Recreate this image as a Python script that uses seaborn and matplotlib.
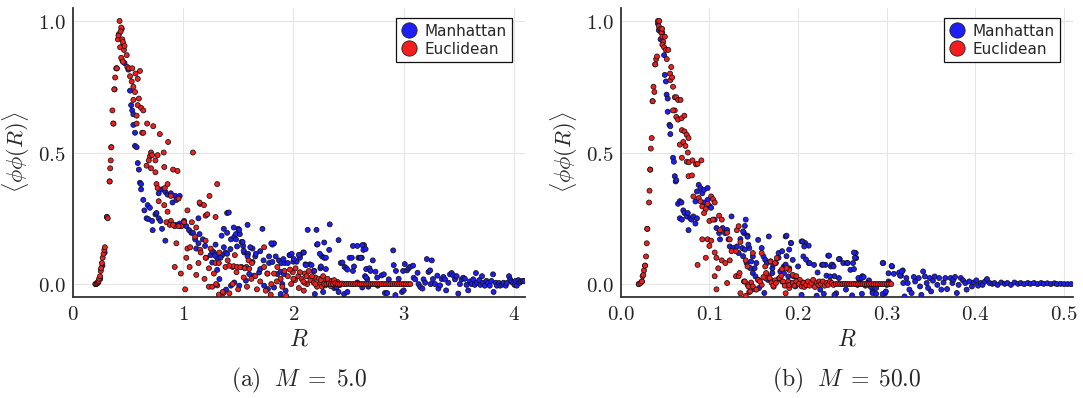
import matplotlib
matplotlib.use("Agg")
import matplotlib.pyplot as plt
import pandas as pd
import seaborn as sns
from matplotlib.ticker import FuncFormatter, FixedLocator
from matplotlib.lines import Line2D

# ---------------------------------------------------------------------------
# Two-point correlation <phi phi(R)> versus separation R, for two distance
# metrics and two masses.  Each series is a list of (R, correlation) samples.
# ---------------------------------------------------------------------------

SERIES = ["Manhattan", "Euclidean"]
COLORS = {"Manhattan": "#1e1ef5", "Euclidean": "#f51e1e"}

# ----- panel (a): M = 5.0 --------------------------------------------------
A_MANHATTAN = [
    (0.21, 0.0), (0.23, 0.005), (0.25, 0.02), (0.27, 0.07), (0.29, 0.12), (0.31, 0.255),
    (0.335, 0.39), (0.35, 0.52), (0.37, 0.61), (0.38, 0.74), (0.40, 0.82), (0.42, 0.95),
    (0.445, 0.97), (0.45, 0.85), (0.47, 0.84), (0.46, 0.91), (0.505, 0.815), (0.52, 0.735),
    (0.53, 0.68), (0.54, 0.66), (0.55, 0.645), (0.55, 0.605), (0.565, 0.575), (0.565, 0.525),
    (0.58, 0.52), (0.59, 0.46), (0.60, 0.435), (0.61, 0.385), (0.62, 0.38), (0.62, 0.36),
    (0.64, 0.32), (0.65, 0.28), (0.67, 0.25), (0.685, 0.247), (0.72, 0.24), (0.725, 0.205),
    (0.68, 0.30), (0.70, 0.29), (0.75, 0.265), (0.76, 0.27), (0.78, 0.25), (0.795, 0.24),
    (0.81, 0.21), (0.84, 0.165), (0.78, 0.345), (0.81, 0.36), (0.84, 0.35), (0.86, 0.34),
    (0.89, 0.345), (0.93, 0.335), (0.97, 0.335), (0.905, 0.31), (0.94, 0.32), (0.97, 0.23),
    (0.935, 0.225), (0.98, 0.22), (1.01, 0.24), (1.03, 0.22), (1.055, 0.205), (1.075, 0.195),
    (1.09, 0.195), (1.11, 0.17), (1.14, 0.155), (1.12, 0.135), (1.15, 0.19), (1.18, 0.17),
    (1.20, 0.145), (1.21, 0.10), (1.25, 0.11), (1.28, 0.12), (1.295, 0.15), (1.14, 0.25),
    (1.155, 0.305), (1.265, 0.125), (1.31, 0.10), (1.355, 0.11), (1.37, 0.14), (1.385, 0.12),
    (1.40, 0.27), (1.37, 0.21), (1.40, 0.195), (1.435, 0.17), (1.465, 0.18), (1.48, 0.19),
    (1.50, 0.21), (1.515, 0.19), (1.53, 0.16), (1.585, 0.225), (1.555, 0.12), (1.545, 0.145),
    (1.59, 0.115), (1.63, 0.135), (1.655, 0.105), (1.70, 0.125), (1.72, 0.21), (1.73, 0.09),
    (1.765, 0.04), (1.78, 0.08), (1.81, 0.15), (1.825, 0.155), (1.84, 0.105), (1.87, 0.09),
    (1.89, 0.08), (1.92, 0.08), (1.90, 0.0), (1.965, 0.11), (2.0, 0.085), (2.03, 0.085),
    (2.06, 0.11), (2.09, 0.12), (2.11, 0.075), (2.13, 0.206), (2.15, 0.075), (2.185, 0.05),
    (2.21, 0.206), (2.215, 0.15), (2.245, 0.06), (2.26, 0.105), (2.28, 0.10), (2.33, 0.227),
    (2.325, 0.13), (2.34, 0.01), (2.37, -0.015), (2.41, 0.167), (2.43, 0.08), (2.465, 0.065),
    (2.48, 0.06), (2.49, 0.055), (2.54, 0.145), (2.51, 0.10), (2.54, 0.05), (2.58, 0.145),
    (2.59, 0.10), (2.605, 0.10), (2.64, 0.148), (2.635, 0.13), (2.65, 0.03), (2.68, -0.01),
    (1.265, 0.082), (1.29, 0.108), (1.34, 0.10), (1.40, 0.115), (1.43, 0.133), (1.49, 0.143),
    (1.55, 0.127), (1.585, 0.105), (1.63, 0.084), (1.66, 0.115), (1.78, 0.105), (1.81, 0.084),
    (1.91, 0.095), (1.97, 0.11), (2.06, 0.10), (1.985, 0.115), (2.05, 0.111), (2.095, 0.12),
    (2.115, 0.072), (2.165, 0.072), (2.19, 0.05), (2.25, 0.067), (2.295, 0.057), (2.39, -0.013),
    (2.41, -0.03), (2.46, -0.038), (2.49, -0.03), (2.195, -0.038), (2.27, -0.03), (1.93, -0.025),
    (1.885, -0.038), (1.825, -0.013), (1.77, -0.019), (1.735, -0.006), (1.855, 0.038),
    (1.885, 0.047), (1.915, 0.038), (1.95, 0.08), (2.005, 0.095), (1.69, 0.044), (1.70, 0.057),
    (1.645, 0.032), (1.60, 0.038), (1.57, 0.013), (1.51, -0.006), (1.465, 0.006), (1.435, -0.006),
    (1.39, -0.021), (1.33, 0.019), (1.31, 0.054), (1.415, 0.272), (1.46, 0.215), (1.51, 0.206),
    (1.35, 0.184), (1.48, 0.17), (1.54, 0.16), (1.61, 0.14), (1.80, 0.155), (2.22, 0.152),
    (2.28, 0.158), (2.24, 0.115), (2.295, 0.10), (2.445, 0.082), (2.53, 0.10), (2.62, 0.10),
    (2.58, 0.006), (2.625, -0.013), (2.67, 0.019), (2.55, 0.067), (2.66, 0.057),
    (2.625, 0.148), (2.655, 0.133), (2.61, 0.10), (2.72, 0.09), (2.69, 0.06), (2.70, 0.05),
    (2.745, 0.047), (2.66, 0.025), (2.76, 0.025), (2.80, 0.033), (2.82, 0.037), (2.765, -0.006),
    (2.83, -0.034), (2.85, -0.034), (2.905, 0.128), (2.91, 0.072), (2.93, 0.05), (2.865, 0.018),
    (2.875, 0.0), (2.925, -0.042), (2.955, 0.02), (2.995, 0.05), (3.01, 0.076), (2.985, -0.03),
    (3.0, -0.024), (3.03, 0.052), (3.045, 0.06), (3.06, 0.066), (3.085, 0.07), (3.09, 0.024),
    (3.105, 0.018), (3.126, 0.043), (3.135, 0.0), (3.15, -0.011), (3.17, -0.017), (3.18, 0.018),
    (3.195, 0.005), (3.21, 0.095), (3.225, 0.046), (3.24, 0.052), (3.255, 0.09), (3.265, 0.019),
    (3.245, 0.0), (3.285, 0.0), (3.305, 0.032), (3.315, -0.017), (3.33, -0.005), (3.345, 0.019),
    (3.36, 0.027), (3.375, 0.018), (3.385, -0.024), (3.405, 0.005), (3.42, 0.037), (3.435, 0.042),
    (3.45, 0.033), (3.465, 0.018), (3.48, 0.03), (3.495, -0.036), (3.51, 0.0), (3.525, 0.018),
    (3.54, 0.024), (3.555, 0.02), (3.57, -0.003), (3.585, -0.024), (3.60, 0.01), (3.615, 0.0),
    (3.63, 0.018), (3.645, -0.003), (3.655, 0.042), (3.665, 0.005), (3.685, 0.015),
    (3.695, -0.003), (3.71, 0.03), (3.72, 0.005), (3.735, -0.006), (3.75, 0.012), (3.765, 0.004),
    (3.78, -0.006), (3.795, 0.012), (3.81, 0.037), (3.815, -0.03), (3.835, 0.005), (3.845, -0.006),
    (3.865, 0.004), (3.875, -0.006), (3.895, -0.002), (3.905, 0.005), (3.925, -0.006),
    (3.935, 0.004), (3.955, 0.03), (3.965, 0.018), (3.975, 0.01), (3.99, 0.005), (4.005, -0.003),
    (4.015, 0.012), (4.025, -0.006), (4.04, 0.015), (4.05, 0.005), (4.065, 0.01), (4.08, 0.012),
    (4.095, 0.012),
]

A_EUCLIDEAN = [
    (0.205, 0.0), (0.215, 0.0), (0.222, 0.003), (0.228, 0.008), (0.235, 0.012), (0.24, 0.02),
    (0.248, 0.03), (0.255, 0.05), (0.258, 0.06), (0.265, 0.08), (0.272, 0.10), (0.28, 0.115),
    (0.287, 0.13), (0.292, 0.14), (0.31, 0.255), (0.318, 0.25), (0.335, 0.39), (0.34, 0.44),
    (0.345, 0.47), (0.35, 0.52), (0.36, 0.66), (0.368, 0.61), (0.377, 0.74), (0.385, 0.785),
    (0.395, 0.82), (0.40, 0.82), (0.41, 0.93), (0.415, 0.945), (0.425, 1.0), (0.44, 0.975),
    (0.435, 0.96), (0.43, 0.90), (0.45, 0.93), (0.455, 0.92), (0.465, 0.89), (0.47, 0.905),
    (0.44, 0.86), (0.455, 0.845), (0.49, 0.87), (0.495, 0.825), (0.51, 0.82), (0.54, 0.82),
    (0.57, 0.80), (0.61, 0.81), (0.52, 0.79), (0.59, 0.78), (0.535, 0.77), (0.55, 0.75),
    (0.565, 0.73), (0.55, 0.70), (0.60, 0.705), (0.59, 0.68), (0.62, 0.67), (0.64, 0.66),
    (0.58, 0.64), (0.63, 0.575), (0.64, 0.575), (0.675, 0.61), (0.73, 0.60), (0.79, 0.57),
    (0.865, 0.54), (0.58, 0.61), (0.71, 0.50), (0.70, 0.485), (0.69, 0.47), (0.72, 0.49),
    (0.77, 0.49), (0.825, 0.50), (0.67, 0.45), (0.75, 0.47), (0.71, 0.44), (0.75, 0.425),
    (0.83, 0.445), (0.91, 0.435), (0.95, 0.43), (1.09, 0.50), (0.76, 0.38), (0.77, 0.365),
    (0.835, 0.365), (0.86, 0.38), (0.89, 0.335), (0.96, 0.325), (0.78, 0.315), (0.83, 0.30),
    (0.86, 0.275), (0.89, 0.24), (0.925, 0.22), (0.985, 0.22), (1.01, 0.235), (1.04, 0.28),
    (1.15, 0.31), (1.19, 0.30), (1.205, 0.26), (1.22, 0.265), (1.24, 0.335), (1.31, 0.38),
    (1.295, 0.255), (1.08, 0.235), (0.94, 0.155), (1.04, 0.135), (1.065, 0.14), (1.03, 0.10),
    (0.925, 0.065), (1.06, 0.065), (1.11, 0.18), (1.205, 0.165), (1.155, 0.13), (1.205, 0.10),
    (1.25, 0.135), (1.295, 0.08), (1.325, 0.08), (1.33, 0.12), (1.28, 0.04), (1.235, 0.06),
    (1.14, 0.08), (0.98, 0.04), (1.02, -0.02), (1.195, 0.02), (1.235, -0.01), (1.265, -0.01),
    (1.31, -0.005), (1.325, -0.04), (1.365, -0.035), (1.42, -0.035), (1.385, 0.065),
    (1.405, 0.09), (1.45, 0.065), (1.485, 0.045), (1.53, 0.065), (1.55, 0.025), (1.575, 0.065),
    (1.595, 0.09), (1.625, 0.08), (1.655, 0.03), (1.67, -0.02), (1.735, 0.14), (1.735, 0.065),
    (1.765, 0.04), (1.795, -0.04), (1.825, 0.04), (1.855, 0.065), (1.885, 0.02), (1.935, -0.045),
    (1.95, 0.03), (1.995, 0.045), (2.015, 0.015), (2.045, 0.03), (2.075, 0.02), (2.105, 0.04),
    (2.125, 0.0), (2.095, -0.025), (2.155, 0.015), (2.185, 0.005), (2.2, 0.025), (2.215, -0.01),
    (2.245, 0.005), (0.85, 0.235), (0.88, 0.225), (0.91, 0.225), (0.96, 0.22), (1.12, 0.215),
    (1.42, 0.07), (1.46, 0.068), (1.49, 0.065), (1.52, 0.064), (1.56, 0.06), (1.60, 0.058),
    (1.12, 0.035), (1.16, 0.12), (1.30, 0.0), (1.36, -0.03), (1.45, 0.0), (1.50, -0.02),
    (1.47, 0.11), (1.58, -0.01), (1.62, 0.02), (1.70, 0.01), (1.75, -0.025), (1.80, 0.0),
    (1.85, 0.01), (1.90, -0.01), (1.98, 0.0), (2.05, -0.015), (2.10, 0.005), (1.92, 0.05),
    (1.97, 0.055), (2.00, 0.02), (2.02, 0.06), (2.06, 0.045), (2.09, 0.01), (2.12, 0.03),
    (2.14, 0.05), (2.17, 0.03), (2.20, 0.0), (2.23, 0.02), (2.25, 0.015), (2.27, 0.03),
    (2.30, 0.01), (2.32, 0.005), (2.35, 0.012), (2.38, 0.0), (2.40, 0.008), (2.26, -0.01),
    (2.29, -0.005), (2.31, 0.02), (2.34, -0.008), (2.37, 0.015), (2.42, -0.004),
    (2.28, 0.0), (2.30, 0.0), (2.32, 0.002), (2.34, 0.0), (2.36, 0.0), (2.38, 0.003),
    (2.40, 0.0), (2.42, 0.0), (2.44, 0.002), (2.46, 0.0), (2.48, 0.0), (2.50, 0.001),
    (2.52, 0.0), (2.54, 0.0), (2.56, 0.0), (2.58, 0.001), (2.60, 0.0), (2.62, 0.0),
    (2.64, 0.0), (2.66, 0.0), (2.68, 0.001), (2.70, 0.0), (2.72, 0.0), (2.74, 0.0),
    (2.76, 0.0), (2.78, 0.0), (2.80, 0.0), (2.82, 0.0), (2.84, 0.0), (2.86, 0.0),
    (2.88, 0.0), (2.90, 0.0), (2.92, 0.0), (2.94, 0.0), (2.96, 0.0), (2.98, 0.0),
    (3.00, 0.0), (3.02, 0.0), (3.04, 0.0), (3.06, 0.0),
]

# ----- panel (b): M = 50.0 -------------------------------------------------
B_MANHATTAN = [
    (0.0204, 0.0), (0.024, 0.01), (0.0275, 0.07), (0.030, 0.21), (0.0333, 0.435),
    (0.036, 0.695), (0.039, 0.835), (0.042, 0.99), (0.045, 0.96),
    (0.043, 0.965), (0.047, 0.955), (0.045, 0.93), (0.049, 0.87), (0.0498, 0.795), (0.051, 0.77),
    (0.0518, 0.72), (0.053, 0.705), (0.053, 0.655), (0.055, 0.605), (0.056, 0.60), (0.056, 0.57),
    (0.059, 0.48), (0.060, 0.465), (0.061, 0.41), (0.062, 0.39), (0.0627, 0.395), (0.0647, 0.305),
    (0.0667, 0.315), (0.0686, 0.31), (0.0667, 0.25), (0.069, 0.245), (0.0706, 0.28), (0.072, 0.27),
    (0.0745, 0.257), (0.0757, 0.27), (0.0784, 0.25), (0.080, 0.245), (0.082, 0.257),
    (0.0765, 0.205), (0.0843, 0.23), (0.086, 0.25), (0.0843, 0.314), (0.088, 0.377), (0.090, 0.365),
    (0.092, 0.345), (0.094, 0.358), (0.098, 0.365), (0.086, 0.352), (0.098, 0.32), (0.100, 0.297),
    (0.102, 0.29), (0.094, 0.31), (0.106, 0.245), (0.108, 0.213), (0.111, 0.194), (0.112, 0.17),
    (0.115, 0.213), (0.1176, 0.194), (0.120, 0.206), (0.1216, 0.17), (0.123, 0.143), (0.125, 0.257),
    (0.127, 0.137), (0.131, 0.143), (0.133, 0.118), (0.135, 0.171), (0.137, 0.137), (0.139, 0.194),
    (0.141, 0.245), (0.143, 0.184), (0.145, 0.137), (0.147, 0.086), (0.149, 0.105), (0.151, 0.06),
    (0.153, 0.08), (0.155, 0.168), (0.159, 0.137), (0.161, 0.105), (0.163, 0.092), (0.165, 0.08),
    (0.167, 0.181), (0.169, 0.086), (0.171, 0.06), (0.178, 0.118), (0.184, 0.067), (0.186, 0.181),
    (0.190, 0.06), (0.192, 0.156), (0.194, 0.092), (0.200, 0.067), (0.204, 0.162), (0.208, 0.156),
    (0.212, 0.146), (0.206, 0.105), (0.212, 0.08), (0.218, 0.073), (0.222, 0.044), (0.227, 0.073),
    (0.231, 0.073), (0.234, 0.108), (0.237, 0.067), (0.239, 0.073), (0.241, 0.03), (0.243, -0.035),
    (0.247, 0.095), (0.251, 0.08), (0.255, 0.08), (0.259, 0.054), (0.263, 0.057), (0.265, 0.118),
    (0.2655, 0.099), (0.269, 0.016), (0.2725, 0.03), (0.276, -0.006), (0.280, 0.014),
    (0.284, -0.028), (0.288, -0.015), (0.296, 0.08), (0.298, -0.035), (0.300, -0.003),
    (0.302, 0.01), (0.306, 0.067), (0.308, 0.039), (0.314, 0.044), (0.316, 0.032), (0.318, 0.052),
    (0.138, 0.106), (0.14, 0.131), (0.144, 0.15), (0.143, 0.18), (0.14, 0.221), (0.138, 0.2),
    (0.142, 0.08), (0.146, 0.061), (0.149, 0.042), (0.152, 0.029), (0.155, 0.016), (0.156, -0.015),
    (0.162, -0.034), (0.166, 0.016), (0.171, 0.042), (0.18, 0.048), (0.184, 0.042), (0.189, 0.029),
    (0.197, -0.009), (0.204, -0.041), (0.202, 0.01), (0.2, 0.016), (0.195, 0.029), (0.186, 0.074),
    (0.172, 0.074), (0.175, 0.08), (0.178, 0.1), (0.182, 0.125), (0.187, 0.106), (0.19, 0.131),
    (0.192, 0.156), (0.187, 0.184), (0.205, 0.162), (0.207, 0.143), (0.209, 0.093), (0.213, 0.08),
    (0.211, -0.003), (0.221, -0.044), (0.225, -0.021), (0.229, -0.037), (0.228, 0.074),
    (0.232, 0.032), (0.236, 0.029), (0.241, -0.041), (0.246, 0.023), (0.254, -0.021),
    (0.261, -0.043), (0.267, -0.003), (0.272, -0.037), (0.235, 0.108), (0.238, 0.074),
    (0.24, 0.067), (0.246, 0.095), (0.256, 0.08), (0.262, 0.08), (0.264, 0.1), (0.263, 0.12),
    (0.268, 0.023), (0.272, 0.023), (0.274, 0.027), (0.278, 0.004), (0.282, -0.011),
    (0.284, -0.034), (0.288, -0.037), (0.2954, -0.038), (0.299, -0.028), (0.303, 0.004),
    (0.302, 0.041), (0.3055, 0.069), (0.2954, 0.08),
    (0.3186, 0.004), (0.315, 0.032), (0.317, 0.048), (0.3221, 0.023), (0.3236, 0.004),
    (0.3255, -0.021), (0.320, -0.047), (0.328, -0.034), (0.3305, 0.027), (0.332, 0.01),
    (0.336, 0.023), (0.3375, -0.009), (0.339, -0.041), (0.341, 0.048), (0.343, 0.029),
    (0.345, 0.004), (0.3466, -0.015), (0.3485, 0.023), (0.350, -0.028), (0.352, 0.013),
    (0.354, 0.029), (0.357, -0.003), (0.359, 0.023), (0.3615, -0.021), (0.364, 0.006),
    (0.366, 0.023), (0.368, -0.019), (0.372, 0.023), (0.374, 0.004), (0.375, 0.016),
    (0.377, 0.027), (0.379, -0.034), (0.381, -0.003), (0.3835, 0.023), (0.386, 0.014),
    (0.3885, 0.004), (0.390, -0.021), (0.393, 0.01), (0.396, -0.009), (0.398, 0.006),
    (0.401, 0.014), (0.403, -0.006), (0.406, 0.004), (0.408, -0.003), (0.4107, 0.01),
    (0.413, 0.019), (0.416, 0.004), (0.419, 0.001), (0.4215, 0.004), (0.425, -0.003),
    (0.429, 0.006), (0.433, 0.001), (0.436, 0.004), (0.44, -0.003), (0.444, 0.006),
    (0.448, 0.001), (0.451, 0.004), (0.455, 0.0), (0.459, 0.004), (0.462, 0.001),
    (0.466, 0.004), (0.47, 0.0), (0.474, 0.004), (0.477, 0.001), (0.481, 0.003),
    (0.485, 0.0), (0.489, 0.003), (0.492, 0.0), (0.496, 0.001), (0.50, 0.0), (0.504, 0.0),
    (0.508, 0.0),
]

B_EUCLIDEAN = [
    (0.0204, 0.0), (0.0224, 0.004), (0.024, 0.01), (0.0247, 0.03), (0.0255, 0.035),
    (0.0263, 0.052), (0.0275, 0.07), (0.0286, 0.105), (0.0294, 0.155), (0.030, 0.21),
    (0.032, 0.31), (0.0325, 0.355), (0.0333, 0.435), (0.034, 0.515), (0.035, 0.555),
    (0.036, 0.695), (0.037, 0.75), (0.038, 0.73), (0.039, 0.835), (0.040, 0.855),
    (0.041, 0.865), (0.042, 1.0), (0.0435, 1.0), (0.043, 0.98), (0.045, 0.97), (0.046, 0.955),
    (0.0467, 0.97), (0.047, 0.94), (0.048, 0.92), (0.047, 0.91), (0.049, 0.90), (0.0498, 0.94),
    (0.051, 0.89), (0.052, 0.855), (0.0537, 0.89), (0.0557, 0.80), (0.057, 0.825), (0.056, 0.775),
    (0.058, 0.785), (0.059, 0.75), (0.061, 0.71), (0.0627, 0.71), (0.0647, 0.70), (0.0675, 0.70),
    (0.061, 0.66), (0.059, 0.66), (0.0627, 0.635), (0.0647, 0.625), (0.0686, 0.63), (0.0718, 0.64),
    (0.069, 0.585), (0.072, 0.58), (0.0745, 0.567), (0.0765, 0.555), (0.0667, 0.53), (0.0706, 0.54),
    (0.073, 0.525), (0.0757, 0.50), (0.069, 0.48), (0.0745, 0.465), (0.077, 0.463), (0.081, 0.47),
    (0.085, 0.455), (0.0867, 0.457), (0.091, 0.47), (0.0765, 0.41), (0.0804, 0.413),
    (0.082, 0.333), (0.088, 0.327), (0.090, 0.314), (0.098, 0.305), (0.102, 0.333), (0.104, 0.323),
    (0.106, 0.31), (0.092, 0.295), (0.096, 0.285), (0.094, 0.27), (0.100, 0.24), (0.104, 0.245),
    (0.092, 0.17), (0.098, 0.17), (0.100, 0.145), (0.102, 0.165), (0.106, 0.12), (0.096, 0.10),
    (0.0867, 0.073), (0.111, 0.26), (0.114, 0.245), (0.112, 0.205), (0.120, 0.195), (0.123, 0.17),
    (0.123, 0.09), (0.125, 0.125), (0.130, 0.125), (0.108, 0.10), (0.110, 0.06), (0.114, 0.09),
    (0.118, 0.08), (0.106, 0.03), (0.108, -0.02), (0.120, 0.004), (0.130, 0.03), (0.133, 0.03),
    (0.135, -0.035), (0.141, -0.045), (0.145, -0.03), (0.147, 0.006), (0.143, -0.002),
    (0.139, 0.01), (0.151, -0.02), (0.155, 0.016), (0.159, -0.003), (0.163, 0.023),
    (0.1667, 0.03), (0.171, 0.01), (0.1725, -0.01), (0.178, 0.02), (0.182, 0.01),
    (0.186, -0.035), (0.190, -0.015), (0.192, 0.004), (0.131, 0.205), (0.133, 0.22),
    (0.135, 0.16), (0.141, 0.09), (0.143, 0.067), (0.149, 0.118), (0.159, 0.118), (0.163, 0.067),
    (0.169, 0.086), (0.174, 0.08), (0.176, 0.099), (0.182, 0.057), (0.190, 0.054), (0.194, 0.035),
    (0.198, 0.03), (0.202, 0.016), (0.206, 0.006),
    (0.134, 0.042), (0.140, 0.01), (0.144, -0.009), (0.146, -0.028), (0.149, -0.009),
    (0.153, -0.021), (0.157, 0.01), (0.161, 0.027), (0.164, 0.042), (0.168, 0.023),
    (0.170, 0.006), (0.172, -0.006), (0.174, 0.014), (0.175, 0.004), (0.179, 0.023),
    (0.181, 0.032), (0.183, 0.01), (0.185, -0.006), (0.187, 0.061), (0.189, 0.01),
    (0.190, -0.003), (0.194, 0.004), (0.196, -0.006), (0.198, 0.01), (0.201, 0.001),
    (0.204, -0.009), (0.206, 0.004), (0.207, -0.011), (0.209, -0.003), (0.211, 0.01),
    (0.213, -0.006), (0.215, 0.004), (0.217, 0.016), (0.219, -0.011), (0.221, 0.006),
    (0.223, -0.003), (0.224, 0.01), (0.226, 0.001), (0.228, 0.01), (0.230, -0.006),
    (0.232, 0.004), (0.234, -0.003), (0.236, 0.01), (0.238, 0.004), (0.240, -0.003),
    (0.2425, 0.0), (0.245, 0.001), (0.2475, 0.0), (0.250, 0.0), (0.2525, 0.001), (0.255, 0.0),
    (0.2575, 0.0), (0.260, 0.0), (0.2625, 0.001), (0.265, 0.0), (0.2675, 0.0), (0.270, 0.0),
    (0.2725, 0.0), (0.275, 0.0), (0.2775, 0.0), (0.280, 0.0), (0.2825, 0.0), (0.285, 0.0),
    (0.2875, 0.0), (0.290, 0.0), (0.2925, 0.0), (0.295, 0.0), (0.2975, 0.0), (0.300, 0.0),
    (0.3025, 0.0), (0.305, 0.0),
]

PANELS = [
    dict(man=A_MANHATTAN, euc=A_EUCLIDEAN, xlim=(0.0, 4.1), xticks=[0, 1, 2, 3, 4],
         xfmt="${:.0f}$", caption=r"$\mathrm{(a)}\ \ M \;=\; 5.0$"),
    dict(man=B_MANHATTAN, euc=B_EUCLIDEAN, xlim=(0.0, 0.51), xticks=[0.0, 0.1, 0.2, 0.3, 0.4, 0.5],
         xfmt="${:.1f}$", caption=r"$\mathrm{(b)}\ \ M \;=\; 50.0$"),
]
YTICKS = [0.0, 0.5, 1.0]
YLIM = (-0.048, 1.048)


def to_frame(man, euc):
    rows = [(x, y, "Manhattan") for x, y in man] + [(x, y, "Euclidean") for x, y in euc]
    return pd.DataFrame(rows, columns=["R", "corr", "metric"])


sns.set_theme(style="white")
plt.rcParams["mathtext.fontset"] = "cm"
plt.rcParams["font.family"] = ["DejaVu Sans"]

fig = plt.figure(figsize=(10.83, 3.98), dpi=100)
axes = [fig.add_axes([0.0671, 0.2545, 0.4177, 0.7246]),
        fig.add_axes([0.5731, 0.2545, 0.4177, 0.7246])]

for ax, p in zip(axes, PANELS):
    df = to_frame(p["man"], p["euc"])
    sns.scatterplot(data=df, x="R", y="corr", hue="metric", hue_order=SERIES,
                    palette=COLORS, s=13, edgecolor="#111111", linewidth=0.55,
                    legend=False, ax=ax, zorder=3)
    ax.set_xlim(*p["xlim"])
    ax.set_ylim(*YLIM)
    ax.xaxis.set_major_locator(FixedLocator(p["xticks"]))
    ax.yaxis.set_major_locator(FixedLocator(YTICKS))
    fmt = p["xfmt"]
    ax.xaxis.set_major_formatter(FuncFormatter(lambda v, _, f=fmt: f.format(v)))
    ax.yaxis.set_major_formatter(FuncFormatter(lambda v, _: "${:.1f}$".format(v)))
    ax.tick_params(axis="both", direction="in", length=3, width=0.8, colors="#222222",
                   labelsize=15, pad=5)
    ax.grid(True, color="#e6e6e6", linewidth=0.8, zorder=0)
    for side in ("top", "right"):
        ax.spines[side].set_visible(False)
    for side in ("left", "bottom"):
        ax.spines[side].set_color("#333333")
        ax.spines[side].set_linewidth(1.3)
    ax.set_xlabel(r"$R$", fontsize=17, labelpad=2)
    ax.set_ylabel(r"$\langle \phi\phi(R) \rangle$", fontsize=16, labelpad=4)

    handles = [Line2D([], [], marker="o", linestyle="", markersize=11,
                      markerfacecolor=COLORS[k], markeredgecolor="#222222",
                      markeredgewidth=0.6, label=k) for k in SERIES]
    leg = ax.legend(handles=handles, loc="upper right", bbox_to_anchor=(0.971, 0.965),
                    borderaxespad=0, fontsize=11, frameon=True, fancybox=False,
                    framealpha=1, edgecolor="#111111", handlelength=1.0,
                    handletextpad=0.5, labelspacing=0.2, borderpad=0.35)
    leg.get_frame().set_linewidth(0.9)

    box = ax.get_position()
    fig.text(box.x0 + box.width / 2, 0.045, p["caption"], ha="center", va="center",
             fontsize=17)

fig.savefig("out.png", dpi=100, facecolor="white")
